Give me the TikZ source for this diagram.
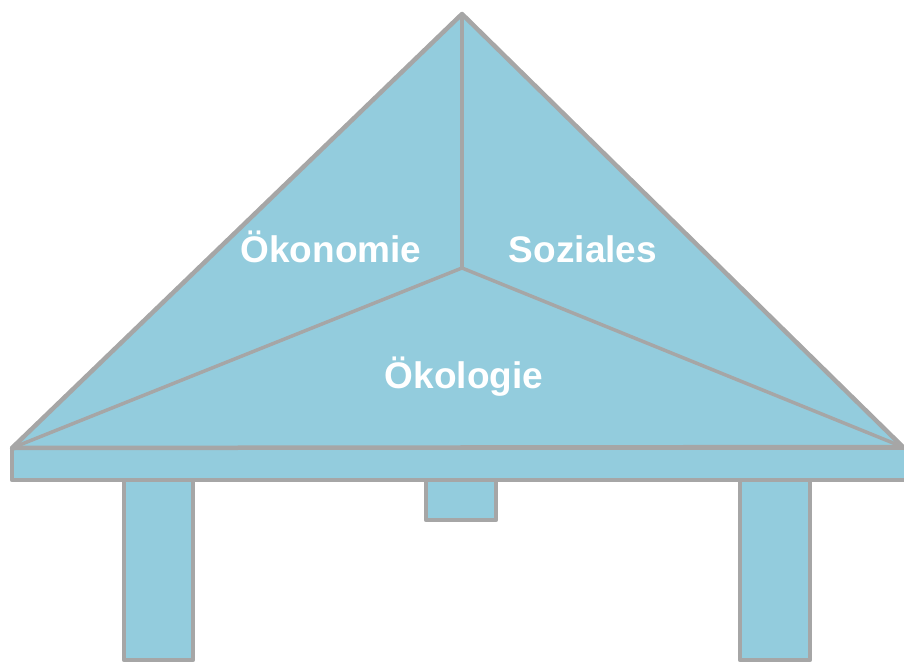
\documentclass[tikz,border=0pt]{standalone}
\usepackage{fontspec}
\setmainfont{Liberation Sans}
\definecolor{roofblue}{HTML}{93CCDD}
\definecolor{edgegray}{HTML}{A6A6A6}
\begin{document}
\begin{tikzpicture}[x=1bp,y=-1bp,
  part/.style={fill=roofblue,draw=edgegray,line width=4.5bp,line join=round},
  seam/.style={draw=edgegray,line width=3.5bp,line cap=round},
  label/.style={text=white,font=\fontsize{37bp}{40bp}\selectfont\bfseries,anchor=base,inner sep=0pt}]
\useasboundingbox (0,0) rectangle (904,662);
\clip (0,0) rectangle (904,662);
% legs and block
\draw[part] (124,470) rectangle (193,660);
\draw[part] (740,470) rectangle (810,660);
\draw[part] (426,470) rectangle (496,520);
% bar
\draw[part] (12,448) rectangle (910,480);
% roof
\coordinate (L) at (12,448);
\coordinate (T) at (462,14);
\coordinate (R) at (903,447);
\coordinate (C) at (462,268);
\draw[part] (L) -- (T) -- (R) -- cycle;
\draw[seam] (C) -- (T);
\draw[seam] (C) -- (L);
\draw[seam] (C) -- (R);
\node[label] (oek) at (331,262) {Ökonomie};
\node[label] (soz) at (583,262) {Soziales};
\node[label] (eko) at (464,388) {Ökologie};
\end{tikzpicture}
\end{document}
